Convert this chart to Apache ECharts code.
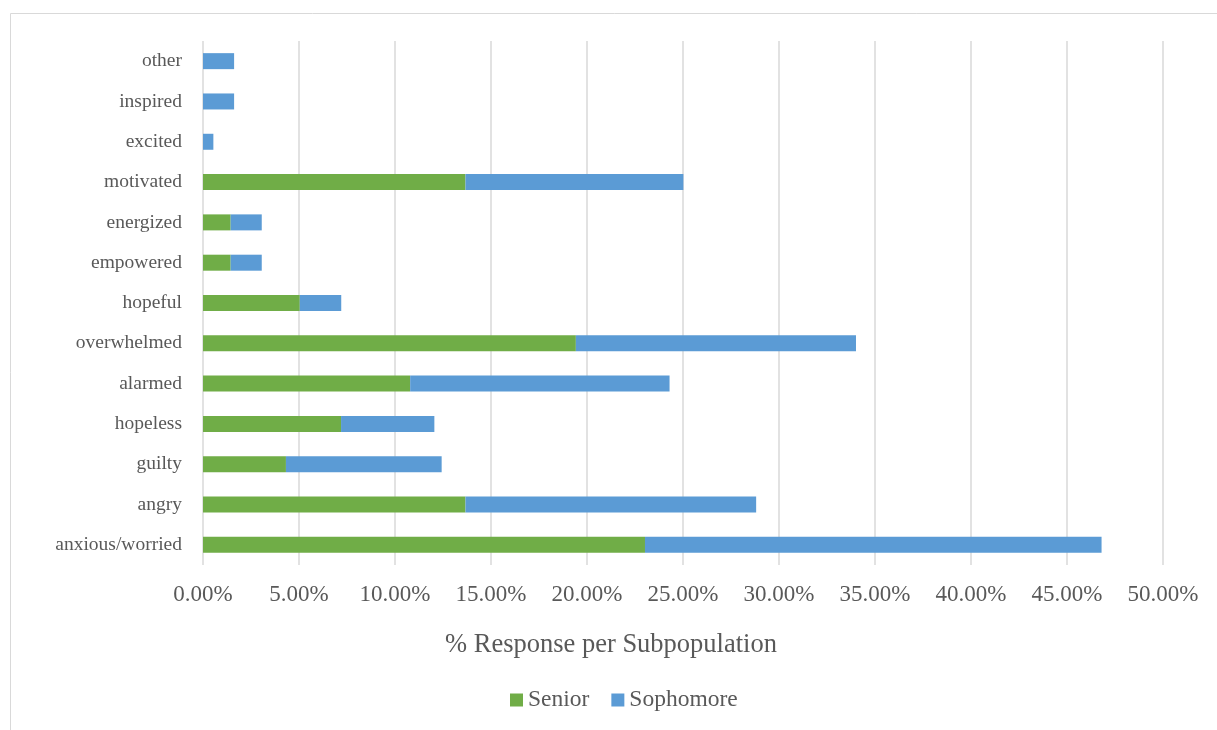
<!DOCTYPE html>
<html><head><meta charset="utf-8">
<script src="https://cdn.jsdelivr.net/npm/echarts@6/dist/echarts.min.js"></script>
<style>html,body{margin:0;padding:0;background:#fff}#c{width:1217px;height:730px}</style>
</head><body><div id="c"></div>
<script>
const categories = ['anxious/worried','angry','guilty','hopeless','alarmed','overwhelmed','hopeful','empowered','energized','motivated','excited','inspired','other'];
const senior = [23.02,13.67,4.32,7.19,10.79,19.42,5.04,1.44,1.44,13.67,0,0,0];
const sophomore = [23.78,15.14,8.11,4.86,13.51,14.59,2.16,1.62,1.62,11.35,0.54,1.62,1.62];
const xTicks = {min:0, max:50, interval:5};
const font = 'Liberation Serif, Times New Roman, serif';
const chart = echarts.init(document.getElementById('c'));
chart.setOption({
  animation:false,
  textStyle:{fontFamily:font},
  graphic:[
    {type:'rect', shape:{x:10.5,y:13.5,width:1400,height:800}, style:{fill:null, stroke:'#d9d9d9', lineWidth:1}},
    {type:'text', x:611, y:645, style:{text:'% Response per Subpopulation', font:'26.5px '+font, fill:'#595959', textAlign:'center', textVerticalAlign:'middle'}}
  ],
  grid:{left:203, right:54, top:41, bottom:165, containLabel:false},
  legend:{left:505, top:683, itemWidth:13, itemHeight:13, itemGap:22, icon:'rect',
    textStyle:{fontFamily:font, fontSize:23.5, color:'#595959'},
    data:['Senior','Sophomore']},
  xAxis:{type:'value', min:xTicks.min, max:xTicks.max, interval:xTicks.interval,
    axisLine:{show:false}, axisTick:{show:false},
    axisLabel:{formatter:v=>v.toFixed(2)+'%', fontFamily:font, fontSize:23, color:'#595959', margin:18},
    splitLine:{lineStyle:{color:'#d9d9d9', width:1.5}}},
  yAxis:{type:'category', data:categories,
    axisLine:{show:false}, axisTick:{show:false},
    axisLabel:{fontFamily:font, fontSize:19.5, color:'#595959', margin:21}},
  series:[
    {name:'Senior', type:'bar', stack:'t', data:senior, barWidth:16, itemStyle:{color:'#70AD47'}},
    {name:'Sophomore', type:'bar', stack:'t', data:sophomore, barWidth:16, itemStyle:{color:'#5B9BD5'}}
  ]
});
</script></body></html>
